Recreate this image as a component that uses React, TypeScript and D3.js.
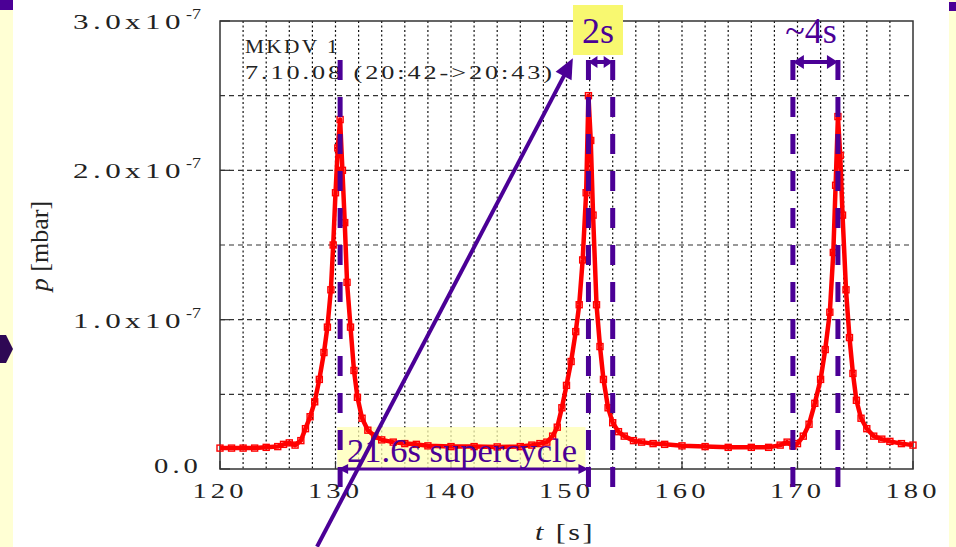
import React from "react";
import * as d3 from "d3";

// time [s] and pressure [x1e-7 mbar]
const time = [
  120, 121, 122, 123, 124, 125, 125.5, 126, 126.5, 127, 127.4, 127.8, 128.2, 128.6, 129.0, 129.3,
  129.6, 129.8, 130.0, 130.2, 130.4, 130.6, 130.8, 131.0, 131.3, 131.6, 131.9, 132.3, 132.8, 133.4,
  134, 135, 136, 137, 138, 140, 142, 144, 146, 147, 147.7, 148.3, 148.8, 149.2, 149.6, 150.0, 150.4,
  150.8, 151.1, 151.4, 151.7, 151.9, 152.1, 152.3, 152.6, 152.9, 153.2, 153.6, 154.0, 154.5, 155,
  155.8, 156.5, 157.5, 158.5, 160, 162, 164, 166, 167.5, 168.5, 169.1, 169.6, 170.0, 170.5, 171.0,
  171.5, 172.0, 172.4, 172.8, 173.1, 173.3, 173.5, 173.7, 173.9, 174.2, 174.5, 174.8, 175.1, 175.5,
  176.0, 176.6, 177.3, 178, 179, 180,
];
const pressure = [
  0.14, 0.14, 0.14, 0.14, 0.145, 0.15, 0.165, 0.175, 0.16, 0.19, 0.27, 0.35, 0.45, 0.6, 0.78, 0.95,
  1.2, 1.5, 1.85, 2.15, 2.34, 2.0, 1.65, 1.25, 0.95, 0.66, 0.48, 0.34, 0.26, 0.22,
  0.195, 0.18, 0.17, 0.165, 0.155, 0.15, 0.15, 0.148, 0.15, 0.16, 0.17, 0.18, 0.22, 0.28, 0.41, 0.56, 0.72,
  0.92, 1.1, 1.4, 1.85, 2.5, 2.2, 1.7, 1.1, 0.82, 0.6, 0.41, 0.31, 0.25, 0.22,
  0.19, 0.18, 0.17, 0.165, 0.155, 0.15, 0.145, 0.145, 0.145, 0.16, 0.18, 0.155, 0.17, 0.22, 0.3,
  0.44, 0.6, 0.8, 1.05, 1.45, 1.9, 2.36, 2.1, 1.7, 1.2, 0.88, 0.64, 0.46, 0.34,
  0.27, 0.22, 0.2, 0.185, 0.17, 0.16,
];

const xTicks = [120, 130, 140, 150, 160, 170, 180];
const yTicks = [0, 1, 2, 3];
const yTickLabels = ["0.0", "1.0x10", "2.0x10", "3.0x10"];
const cursorTimes = [130.4, 151.9, 154.0, 169.6, 173.5];

const W = 956;
const H = 547;
const PURPLE = "#4B0096";
const SERIF = '"Liberation Serif", "Times New Roman", serif';

function arrowHead(x1: number, y1: number, x2: number, y2: number, len: number, half: number) {
  const a = Math.atan2(y2 - y1, x2 - x1);
  const bx = x2 - len * Math.cos(a);
  const by = y2 - len * Math.sin(a);
  const px = -Math.sin(a) * half;
  const py = Math.cos(a) * half;
  return `${x2},${y2} ${bx + px},${by + py} ${bx - px},${by - py}`;
}

function DoubleArrow({ x1, x2, y, w = 4, len = 11, half = 6 }: any) {
  return (
    <g>
      <line x1={x1 + len - 1} x2={x2 - len + 1} y1={y} y2={y} stroke={PURPLE} strokeWidth={w} />
      <polygon points={arrowHead(x2, y, x1, y, len, half)} fill={PURPLE} />
      <polygon points={arrowHead(x1, y, x2, y, len, half)} fill={PURPLE} />
    </g>
  );
}

export default function App() {
  const x = d3.scaleLinear().domain([120, 180]).range([220, 913]);
  const y = d3.scaleLinear().domain([0, 3]).range([469, 21]);
  const data = time.map((t, i) => ({ t, p: pressure[i] }));

  const line = d3
    .line<{ t: number; p: number }>()
    .x((d) => x(d.t))
    .y((d) => y(d.p));

  const vGrid = d3.range(122, 180, 2);
  const hGrid = [0.5, 1, 1.5, 2, 2.5];

  // long diagonal arrow (data coords)
  const ax1 = x(128.4), ay1 = y(-0.52);
  const ax2 = x(150.55), ay2 = y(2.75);

  return (
    <svg width={W} height={H} style={{ position: "absolute", left: 0, top: 0, background: "#fff", fontFamily: SERIF }}>
      {/* slide side strips */}
      <rect x={0} y={0} width={13} height={H} fill="#FFFFD4" />
      <rect x={0} y={0} width={13} height={10} fill={PURPLE} />
      <polygon points="0,335 6,335 13,349 6,363 0,363" fill="#2E0854" />
      <rect x={949} y={0} width={7} height={H} fill="#FFFFD4" />
      <rect x={949} y={2} width={7} height={9} fill={PURPLE} />

      {/* grid */}
      {vGrid.map((t) => (
        <line key={"v" + t} x1={x(t)} x2={x(t)} y1={y(3)} y2={y(0)} stroke="#111" strokeWidth={1.2} strokeDasharray="2 2.5" />
      ))}
      {hGrid.map((v) => (
        <line key={"h" + v} x1={x(120)} x2={x(180)} y1={y(v)} y2={y(v)} stroke="#333" strokeWidth={1.2} strokeDasharray="5 4" />
      ))}

      {/* ticks */}
      {xTicks.map((t) => (
        <line key={"xt" + t} x1={x(t)} x2={x(t)} y1={y(0)} y2={y(0) - 8} stroke="#333" strokeWidth={1.2} />
      ))}
      {yTicks.map((v) => (
        <line key={"yt" + v} x1={x(120)} x2={x(120) + 10} y1={y(v)} y2={y(v)} stroke="#333" strokeWidth={1.2} />
      ))}

      {/* frame */}
      <rect x={x(120)} y={y(3)} width={x(180) - x(120)} height={y(0) - y(3)} fill="none" stroke="#333" strokeWidth={1.5} />

      {/* tick labels */}
      {xTicks.map((t) => (
        <text key={"xl" + t} x={x(t) - 27.5} y={498} fontSize={21} letterSpacing={3} fill="#222" textLength={55} lengthAdjust="spacingAndGlyphs">
          {t}
        </text>
      ))}
      {yTicks.map((v, i) =>
        v === 0 ? (
          <text key={"yl" + v} x={154} y={y(v) + 4} fontSize={21} letterSpacing={3} fill="#222" textLength={48} lengthAdjust="spacingAndGlyphs">
            {yTickLabels[i]}
          </text>
        ) : (
          <g key={"yl" + v}>
            <text x={73} y={y(v) + 8} fontSize={21} letterSpacing={3} fill="#222" textLength={112} lengthAdjust="spacingAndGlyphs">
              {yTickLabels[i]}
            </text>
            <text x={186} y={y(v) - 2} fontSize={15} fill="#222" textLength={15} lengthAdjust="spacingAndGlyphs">
              -7
            </text>
          </g>
        )
      )}

      {/* axis titles */}
      <text x={535} y={540} fontSize={24} letterSpacing={2} fill="#222" textLength={60} lengthAdjust="spacingAndGlyphs">
        <tspan fontStyle="italic">t</tspan> [s]
      </text>
      <text transform="translate(48,246) rotate(-90)" textAnchor="middle" fontSize={26} fill="#222">
        <tspan fontStyle="italic">p</tspan> [mbar]
      </text>

      {/* caption in plot */}
      <text x={245} y={53} fontSize={18} letterSpacing={2} fill="#222" textLength={95} lengthAdjust="spacingAndGlyphs">
        MKDV 1
      </text>
      <text x={245} y={79} fontSize={18} letterSpacing={2} fill="#222" textLength={310} lengthAdjust="spacingAndGlyphs">
        7.10.08 (20:42-&gt;20:43)
      </text>

      {/* supercycle label box */}
      <rect x={x(130.4) - 3} y={427} width={x(151.9) - x(130.4)} height={41} fill="#FFFFB4" opacity={0.75} />

      {/* data */}
      <path d={line(data) || ""} fill="none" stroke="#FF0000" strokeWidth={4.5} strokeLinejoin="round" />
      {data.map((d, i) => (
        <rect key={i} x={x(d.t) - 3} y={y(d.p) - 3} width={6} height={6} fill="none" stroke="#FF0000" strokeWidth={1.4} />
      ))}

      {/* cursor lines */}
      {cursorTimes.map((t) => (
        <line key={"c" + t} x1={x(t)} x2={x(t)} y1={60} y2={487} stroke={PURPLE} strokeWidth={5} strokeDasharray="20 17" />
      ))}

      {/* annotations */}
      <rect x={573} y={5} width={50} height={50} fill="#F8F870" />
      <text x={598} y={43} textAnchor="middle" fontSize={36} fill={PURPLE}>
        2s
      </text>
      <DoubleArrow x1={x(151.9)} x2={x(154.0)} y={62} len={9} half={6} />
      <text x={811} y={43} textAnchor="middle" fontSize={36} fill={PURPLE}>
        ~4s
      </text>
      <DoubleArrow x1={x(169.6)} x2={x(173.5)} y={62} len={11} half={7} />

      <text x={347} y={462} fontSize={34} fill={PURPLE} textLength={230} lengthAdjust="spacingAndGlyphs">
        21.6s supercycle
      </text>
      <DoubleArrow x1={x(130.4) - 2} x2={x(151.9)} y={469} w={3} len={10} half={5} />

      <line x1={ax1} y1={ay1} x2={ax2 - 6} y2={ay2 + 12} stroke={PURPLE} strokeWidth={4} />
      <polygon points={arrowHead(ax1, ay1, ax2, ay2, 20, 9)} fill={PURPLE} />
    </svg>
  );
}
